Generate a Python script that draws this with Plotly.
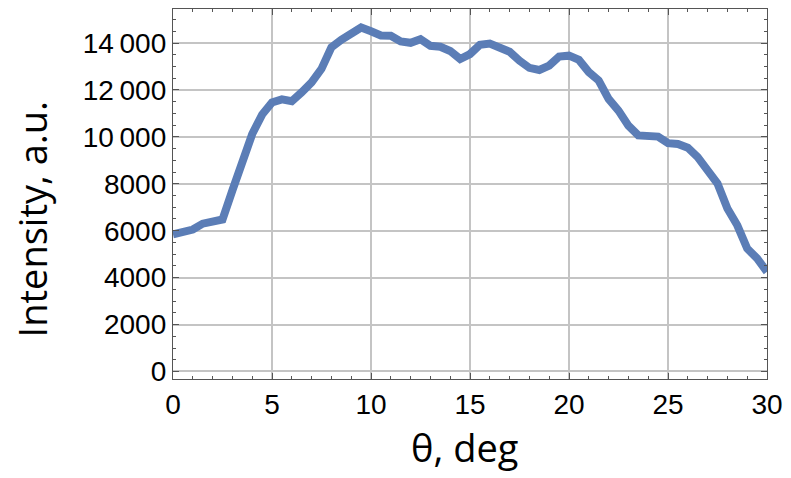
import plotly.graph_objects as go

# Scattering angle (deg) and measured intensity (a.u.)
theta = [i * 0.5 for i in range(61)]
intensity = [
    5850, 5920, 6050, 6300, 6420, 6480, 7720, 9050, 10120, 10950,
    11470, 11600, 11520, 11900, 12320, 12900, 13820, 14140, 14380, 14660,
    14500, 14320, 14310, 14070, 14010, 14160, 13880, 13840, 13660, 13320,
    13530, 13920, 13980, 13790, 13630, 13250, 12940, 12850, 13040, 13420,
    13460, 13280, 12760, 12400, 11620, 11120, 10480, 10060, 10020, 10010,
    9730, 9700, 9540, 9140, 8570, 8010, 6950, 6230, 5240, 4820,
    4250,
]

x_ticks = [0, 5, 10, 15, 20, 25, 30]
y_ticks = [0, 2000, 4000, 6000, 8000, 10000, 12000, 14000]
y_tick_text = ["0", "2000", "4000", "6000", "8000",
               "10\u2009000", "12\u2009000", "14\u2009000"]

fig = go.Figure()
fig.add_trace(go.Scatter(
    x=theta, y=intensity, mode="lines",
    line=dict(color="#5b7db6", width=8, shape="linear"),
    showlegend=False,
))

axis_common = dict(
    showline=True, linecolor="#555555", linewidth=1.3, mirror="allticks",
    showgrid=True, gridcolor="#c4c4c4", gridwidth=1.5,
    ticks="inside", ticklen=6, tickwidth=1, tickcolor="#555555",
    tickfont=dict(family="Liberation Sans, Arial, sans-serif", size=28, color="#000000"),
    ticklabeloverflow="allow",
    zeroline=False,
)

fig.update_xaxes(
    range=[0, 30], tickvals=x_ticks, ticktext=[str(v) for v in x_ticks],
    minor=dict(dtick=1, ticks="inside", ticklen=3, tickcolor="#555555", showgrid=False),
    **axis_common,
)
fig.update_yaxes(
    range=[-320, 15450], tickvals=y_ticks, ticktext=y_tick_text,
    minor=dict(dtick=500, tick0=0, ticks="inside", ticklen=3, tickcolor="#555555", showgrid=False),
    **axis_common,
)

title_font = dict(family="Open Sans, Noto Sans, sans-serif", size=38, color="#000000")
fig.add_annotation(text="θ, deg", xref="paper", yref="paper", x=0.49, y=-0.185,
                   xanchor="center", yanchor="middle", showarrow=False, font=title_font)
fig.add_annotation(text="Intensity, a.u.", xref="paper", yref="paper", x=-0.237, y=0.432,
                   xanchor="center", yanchor="middle", showarrow=False, textangle=-90,
                   font=title_font)

fig.update_layout(
    width=791, height=478,
    margin=dict(l=173, r=18, t=8, b=99),
    paper_bgcolor="white", plot_bgcolor="white",
)

fig.write_html("out.html")
